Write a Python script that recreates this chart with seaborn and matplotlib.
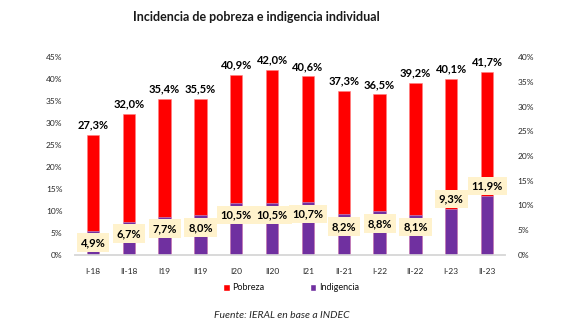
import matplotlib
matplotlib.use("Agg")
import matplotlib.pyplot as plt
from matplotlib.patches import Patch
import seaborn as sns
import pandas as pd

categories = ["I-18", "II-18", "I19", "II19", "I20", "II20", "I21", "II-21", "I-22", "II-22", "I-23", "II-23"]
pobreza = [27.3, 32.0, 35.4, 35.5, 40.9, 42.0, 40.6, 37.3, 36.5, 39.2, 40.1, 41.7]
indigencia = [4.9, 6.7, 7.7, 8.0, 10.5, 10.5, 10.7, 8.2, 8.8, 8.1, 9.3, 11.9]
ind_label_pos = ["in"] * 10 + ["out"] * 2
left_ticks = [0, 5, 10, 15, 20, 25, 30, 35, 40, 45]
right_ticks = [0, 5, 10, 15, 20, 25, 30, 35, 40]

title = "Incidencia de pobreza e indigencia individual"
source = "Fuente: IERAL en base a INDEC"

sns.set_style("white")
plt.rcParams["font.family"] = ["Lato", "DejaVu Sans"]

df = pd.DataFrame({"cat": categories, "pobreza": pobreza, "indigencia": indigencia})

RED = "#FF0000"
PURPLE = "#7030A0"
TXT = "#262626"

fig = plt.figure(figsize=(5.76, 3.29), dpi=100)
ax = fig.add_axes([75 / 576, 1 - 255 / 329, 430 / 576, 198 / 329])
ax2 = ax.twinx()

sns.barplot(data=df, x="cat", y="pobreza", ax=ax, color=RED, saturation=1,
            width=0.34, edgecolor="#FF8080", linewidth=0.4)
sns.barplot(data=df, x="cat", y="indigencia", ax=ax2, color=PURPLE, saturation=1,
            width=0.34, edgecolor="#C9A0DC", linewidth=0.4)

ax.set_xlim(-0.5, len(categories) - 0.5)
ax.set_ylim(0, 45)
ax2.set_ylim(0, 40)
ax.set_yticks(left_ticks)
ax.set_yticklabels([f"{t}%" for t in left_ticks], fontsize=6, color=TXT)
ax2.set_yticks(right_ticks)
ax2.set_yticklabels([f"{t}%" for t in right_ticks], fontsize=6, color=TXT)
ax.tick_params(axis="x", length=0, pad=9, labelsize=6, labelcolor=TXT)
ax.tick_params(axis="y", length=0, pad=9)
ax2.tick_params(axis="y", length=0, pad=9)
ax.set_xlabel("")
ax.set_ylabel("")
ax2.set_ylabel("")
for a in (ax, ax2):
    for s in ["top", "left", "right"]:
        a.spines[s].set_visible(False)
    a.spines["bottom"].set_color("#D9D9D9")
    a.spines["bottom"].set_linewidth(1.2)
    a.grid(False)

for i, v in enumerate(pobreza):
    ax.annotate(f"{v:.1f}%".replace(".", ","), (i, v), xytext=(0, 10),
                textcoords="offset pixels", ha="center", va="center",
                fontsize=8, fontweight="bold", color="black")

for i, (v, p) in enumerate(zip(indigencia, ind_label_pos)):
    off = -12 if p == "in" else 10
    ax2.annotate(f"{v:.1f}%".replace(".", ","), (i, v), xytext=(0, off),
                 textcoords="offset pixels", ha="center", va="center",
                 fontsize=8, fontweight="bold", color="black",
                 bbox=dict(boxstyle="square,pad=0.35", facecolor="#FFF2CC", edgecolor="none"),
                 zorder=5)

fig.text(256 / 576, 1 - 17 / 329, title, ha="center", va="center",
         fontsize=9, fontweight="bold", color="#1a1a1a")

handles = [Patch(facecolor=RED, label="Pobreza"), Patch(facecolor=PURPLE, label="Indigencia")]
fig.legend(handles=handles, loc="center", bbox_to_anchor=(291 / 576, 1 - 288 / 329), ncol=2,
           frameon=False, fontsize=6.5, handlelength=0.7, handleheight=0.7,
           handletextpad=0.3, columnspacing=5, labelcolor="#111111")

fig.text(282 / 576, 1 - 316 / 329, source, ha="center", va="center",
         fontsize=7.5, fontstyle="italic", color=TXT)

fig.savefig("out.png", dpi=100)
